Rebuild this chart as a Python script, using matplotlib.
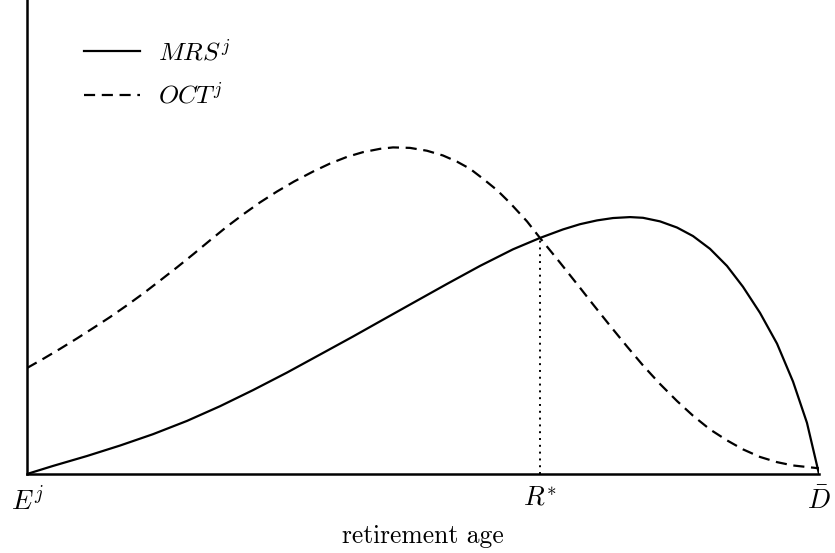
import matplotlib
matplotlib.use("Agg")
import matplotlib.pyplot as plt

plt.rcParams["mathtext.fontset"] = "cm"
plt.rcParams["font.family"] = ["cmr10", "DejaVu Serif"]
plt.rcParams["axes.formatter.use_mathtext"] = True

# retirement age, scaled 0 (E^j) .. 100 (D-bar); values scaled 0..100
mrs_age = [0, 3.28, 7.58, 11.74, 15.91, 20.20, 24.37, 28.54, 32.83, 37.00,
           41.16, 44.57, 48.74, 53.03, 57.20, 61.36, 64.77, 67.68, 69.82,
           71.97, 73.99, 76.14, 77.78, 79.92, 82.07, 84.09, 86.24, 88.38,
           90.40, 92.55, 94.70, 96.72, 98.48, 100]
mrs_val = [0, 1.7, 3.8, 6.0, 8.4, 11.2, 14.3, 17.7, 21.4, 25.2,
           29.0, 32.2, 36.1, 40.1, 43.9, 47.4, 49.8, 51.6, 52.7,
           53.5, 54.0, 54.2, 54.05, 53.3, 52.0, 50.2, 47.5, 43.9,
           39.5, 34.0, 27.5, 19.5, 10.8, 0]

oct_age = [0, 2.15, 4.17, 6.31, 8.46, 10.48, 12.63, 14.77, 16.79, 18.94,
           21.09, 23.11, 25.25, 27.40, 29.42, 31.57, 33.71, 36.11, 38.26,
           40.40, 42.42, 44.57, 46.21, 48.36, 50.50, 52.52, 54.29, 55.93,
           57.57, 59.34, 60.98, 63.13, 64.77, 67.30, 69.82, 71.46, 73.61,
           75.76, 77.78, 79.92, 82.07, 84.09, 86.24, 88.38, 90.40, 92.55,
           94.70, 96.72, 100]
oct_val = [22.36, 24.4, 26.4, 28.6, 30.9, 33.1, 35.6, 38.2, 40.8,
           43.6, 46.5, 49.3, 52.2, 54.9, 57.3, 59.6, 61.7, 63.8,
           65.5, 66.9, 67.9, 68.6, 68.9, 68.8, 68.2, 67.2, 65.9,
           64.4, 62.3, 59.9, 57.2, 53.3, 49.8, 44.6, 39.3, 35.8,
           31.3, 26.9, 22.9, 19.0, 15.4, 12.3, 9.4, 7.1, 5.2, 3.6,
           2.5, 1.8, 1.2]

r_star = 64.8
r_star_val = 49.8

tick_pos = [0, r_star, 100]
tick_labels = [r"$E^j$", r"$R^{*}$", r"$\bar{D}$"]


def main():
    fig = plt.figure(figsize=(8.35, 5.53), dpi=100)
    ax = fig.add_axes([27 / 835, 79 / 553, 792 / 835, 474 / 553])

    ax.plot(mrs_age, mrs_val, color="black", linewidth=1.6, label=r"$MRS^j$")
    ax.plot(oct_age, oct_val, color="black", linewidth=1.6,
            linestyle=(0, (5, 3)), label=r"$OCT^j$")
    # dotted drop line at the crossing
    ax.plot([r_star, r_star], [0, r_star_val], color="black", linewidth=1.4,
            linestyle=(0, (1, 2.5)))

    ax.set_xlim(0, 100)
    ax.set_ylim(0, 100)

    for side in ("top", "right"):
        ax.spines[side].set_visible(False)
    for side in ("left", "bottom"):
        ax.spines[side].set_linewidth(1.8)

    ax.set_yticks([])
    ax.set_xticks(tick_pos)
    ax.set_xticklabels(tick_labels, fontsize=19.5)
    ax.tick_params(axis="x", length=0, pad=9)
    ax.set_xlabel("retirement age", fontsize=18.4, labelpad=6)

    ax.legend(loc="upper left", bbox_to_anchor=(0.0425, 0.966),
              frameon=False, fontsize=18.5, handlelength=2.2,
              handletextpad=0.68, labelspacing=0.68)

    fig.savefig("out.png", dpi=100)


if __name__ == "__main__":
    main()
